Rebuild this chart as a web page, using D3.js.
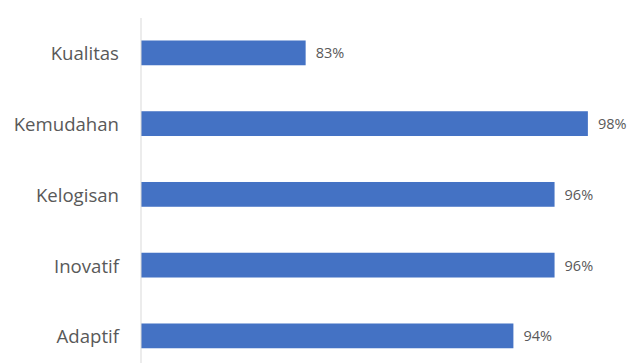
<!DOCTYPE html>
<html>
<head>
<meta charset="utf-8">
<script src="https://cdn.jsdelivr.net/npm/d3@7"></script>
<style>
  body { margin: 0; background: #fff; }
  .axis text { font-family: "Open Sans", sans-serif; fill: #595959; }
  .value-label { font-family: "Open Sans", sans-serif; fill: #595959; }
</style>
</head>
<body>
<div id="chart"></div>
<script>
// data
var categories = ['Kualitas', 'Kemudahan', 'Kelogisan', 'Inovatif', 'Adaptif'];
var values = [0.834, 0.978, 0.961, 0.961, 0.940];
var xDomain = [0.75, 1.0];

var width = 629,
  height = 363;

var svg = d3
  .select('#chart')
  .append('svg')
  .attr('width', width)
  .attr('height', height);

// plot area runs a little past the bottom / right edge of the picture
var x = d3.scaleLinear().domain(xDomain).range([141, 631]);
var y = d3
  .scaleBand()
  .domain(categories)
  .range([17.5, 371.25])
  .paddingInner(0.65)
  .paddingOuter(0.325);

var data = categories.map(function (c, i) {
  return { name: c, value: values[i] };
});

svg
  .selectAll('.bar')
  .data(data)
  .enter()
  .append('rect')
  .attr('class', 'bar')
  .attr('x', x(xDomain[0]))
  .attr('y', function (d) {
    return y(d.name);
  })
  .attr('width', function (d) {
    return x(d.value) - x(xDomain[0]);
  })
  .attr('height', y.bandwidth())
  .attr('fill', '#4472c4');

var yAxis = svg
  .append('g')
  .attr('class', 'axis')
  .attr('transform', 'translate(140.5,0)')
  .call(d3.axisLeft(y).tickSize(0).tickPadding(21.5));

yAxis.select('.domain').attr('stroke', '#d9d9d9');
yAxis
  .selectAll('text')
  .style('font-size', '18.6px')
  .attr('dy', '0.4em');

var fmt = d3.format('.0%');
svg
  .selectAll('.value-label')
  .data(data)
  .enter()
  .append('text')
  .attr('class', 'value-label')
  .attr('x', function (d) {
    return x(d.value) + 10;
  })
  .attr('y', function (d) {
    return y(d.name) + y.bandwidth() / 2;
  })
  .attr('dy', '0.38em')
  .style('font-size', '14.5px')
  .text(function (d) {
    return fmt(d.value);
  });
</script>
</body>
</html>
